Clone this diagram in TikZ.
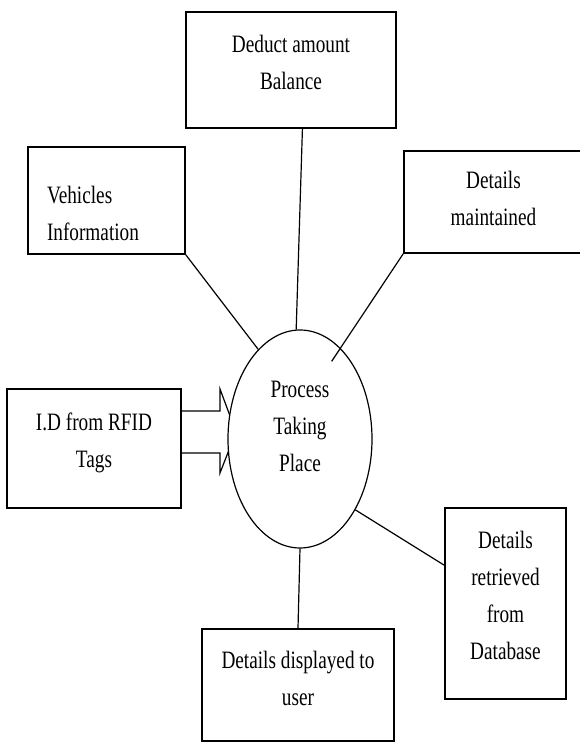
\documentclass[tikz,border=0pt]{standalone}
\usepackage{fontspec}
\setmainfont{Liberation Serif}[FakeStretch=0.77]
\usetikzlibrary{shapes.geometric}

\begin{document}
\begin{tikzpicture}[x=1pt,y=1pt,
  box/.style={draw,line width=1.6pt,inner sep=0pt,align=center,text depth=16pt},
  proc/.style={ellipse,draw,line width=1.2pt,fill=white,inner sep=0pt,align=center,
    minimum width=144pt,minimum height=218pt,text depth=26pt},
  link/.style={line width=1.2pt},
  every node/.style={font=\fontsize{25}{37}\selectfont}]
 \useasboundingbox (0,0) rectangle (580,742);

 %Boxes
 \node[box,minimum width=210pt,minimum height=116pt] (ded) at (291,672) {Deduct amount\\Balance};
 \node[box,minimum width=157pt,minimum height=107pt,text width=119pt,inner xsep=19pt,align=left,text depth=11pt] (veh) at (106.5,541.5) {Vehicles\\Information};
 \node[box,minimum width=179pt,minimum height=102pt,text depth=7pt] (main) at (493.5,540) {Details\\maintained};
 \node[box,minimum width=174pt,minimum height=119pt] (id) at (94,293.5) {I.D from RFID\\Tags};
 \node[box,minimum width=192pt,minimum height=112pt,text depth=14pt] (disp) at (298,57) {Details displayed to\\user};
 \node[box,minimum width=121pt,minimum height=191pt] (db) at (505.5,138.5) {Details\\retrieved\\from\\Database};

 %Arrow into the process
 \coordinate (tip) at (236,310);
 \draw[link] (id.east |- 0,331) -- (220,331) -- (220,353) -- (tip) -- (220,269) -- (220,289) -- (id.east |- 0,289);

 %Process
 \node[proc] (proc) at (300,303) {Process\\Taking\\Place};

 %Lines
 \draw[link] (ded.-79) -- (proc.92);
 \draw[link] (veh.south east) -- (proc.115);
 \draw[link,shorten >=-16pt] (main.south west) -- (proc.66);
 \draw[link] (proc.-52) -- (db.148);
 \draw[link] (proc.south) -- (disp.north);

\end{tikzpicture}
\end{document}
